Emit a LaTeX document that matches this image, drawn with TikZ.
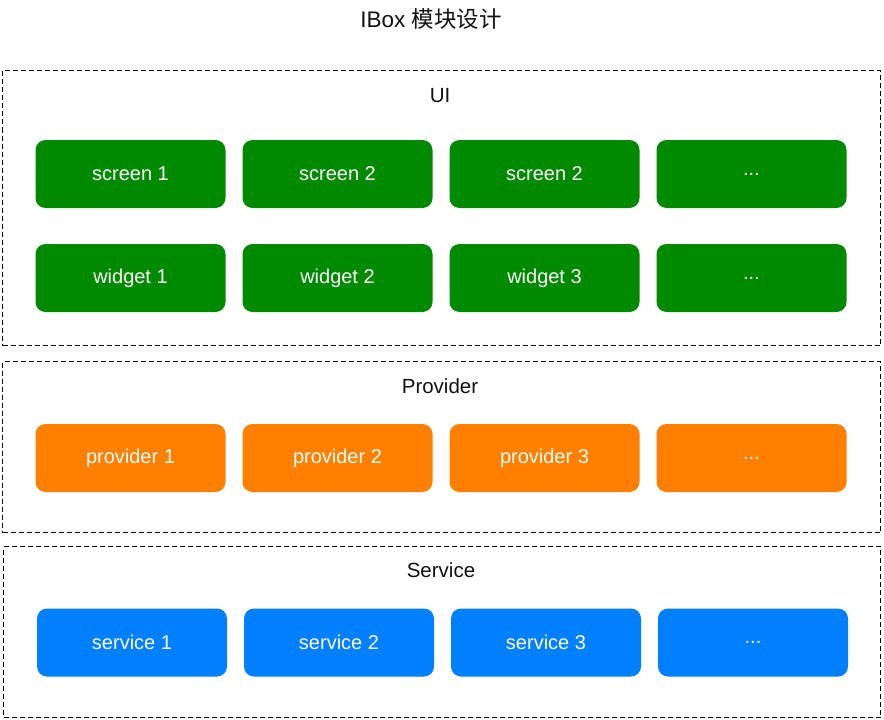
\documentclass[tikz,border=0pt]{standalone}
\usepackage{fontspec}
\setmainfont{Liberation Sans}
\newfontfamily\cjk{Noto Sans CJK SC}
\definecolor{uigreen}{HTML}{008A00}
\definecolor{provorange}{HTML}{FF8000}
\definecolor{servblue}{HTML}{007FFF}
\definecolor{txtdark}{HTML}{111111}
\begin{document}
\begin{tikzpicture}[x=1pt,y=-1pt,
  layer/.style={draw=black,dash pattern=on 5pt off 3pt,line width=1.3pt,
    minimum width=#1,inner sep=0pt,outer sep=0pt},
  modbox/.style={fill=#1,draw=none,rounded corners=10pt,minimum width=190pt,
    minimum height=68pt,inner sep=0pt,text=white,font=\fontsize{20}{22}\selectfont},
  layerlabel/.style={text=txtdark,font=\fontsize{20.5}{24}\selectfont,inner sep=0pt}]
\useasboundingbox (0,0) rectangle (884,720);
\node[text=txtdark,font=\fontsize{22.5}{26}\selectfont,inner sep=0pt] (title) at (431,19) {IBox {\cjk 模块设计}};
% containers
\node[layer=878pt,minimum height=275pt] (ui) at (441.5,208) {};
\node[layer=878pt,minimum height=171pt] (prov) at (441.5,447) {};
\node[layer=877pt,minimum height=171pt] (serv) at (442,632) {};
\node[layerlabel] (uil) at (440,96) {UI};
\node[layerlabel] (provl) at (440,386) {Provider};
\node[layerlabel] (servl) at (441,570) {Service};
% UI
\node[modbox=uigreen] (s1) at (130.5,174) {screen 1};
\node[modbox=uigreen] (s2) at (337.5,174) {screen 2};
\node[modbox=uigreen] (s3) at (544.5,174) {screen 2};
\node[modbox=uigreen] (s4) at (751.5,174) {...};
\node[modbox=uigreen] (w1) at (130.5,278) {widget 1};
\node[modbox=uigreen] (w2) at (337.5,278) {widget 2};
\node[modbox=uigreen] (w3) at (544.5,278) {widget 3};
\node[modbox=uigreen] (w4) at (751.5,278) {...};
% Provider
\node[modbox=provorange] (p1) at (130.5,458) {provider 1};
\node[modbox=provorange] (p2) at (337.5,458) {provider 2};
\node[modbox=provorange] (p3) at (544.5,458) {provider 3};
\node[modbox=provorange] (p4) at (751.5,458) {...};
% Service
\node[modbox=servblue] (v1) at (132,642.5) {service 1};
\node[modbox=servblue] (v2) at (339,642.5) {service 2};
\node[modbox=servblue] (v3) at (546,642.5) {service 3};
\node[modbox=servblue] (v4) at (753,642.5) {...};
\end{tikzpicture}
\end{document}
